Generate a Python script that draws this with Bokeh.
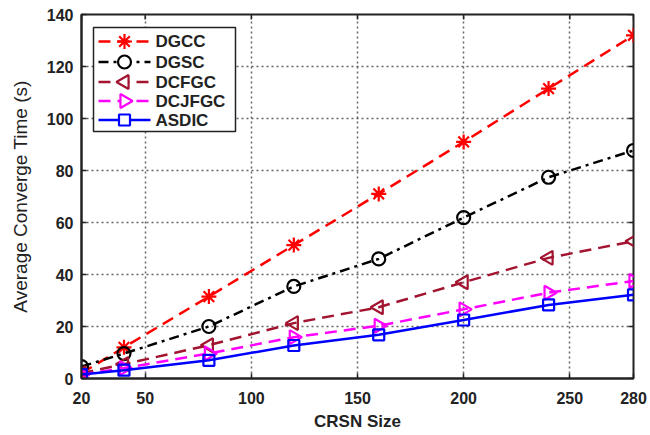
import numpy as np
from bokeh.plotting import figure
from bokeh.models import Range1d, FixedTicker
from bokeh.core.properties import value
from bokeh.embed import file_html
from bokeh.resources import INLINE

# Data
crsn_size = [20, 40, 80, 120, 160, 200, 240, 280]
dgcc = [2.0, 12.0, 31.5, 51.3, 71.0, 91.0, 111.5, 132.0]
dgsc = [4.6, 9.6, 20.0, 35.4, 46.0, 61.9, 77.4, 87.7]
dcfgc = [2.0, 5.5, 12.8, 21.3, 27.4, 37.0, 46.4, 52.8]
dcjfgc = [1.5, 4.0, 9.6, 15.9, 20.3, 26.6, 33.0, 37.5]
asdic = [1.5, 3.2, 7.0, 12.7, 16.8, 22.5, 28.3, 32.2]
series_names = ["DGCC", "DGSC", "DCFGC", "DCJFGC", "ASDIC"]

x_ticks = [20, 50, 100, 150, 200, 250, 280]
y_ticks = [0, 20, 40, 60, 80, 100, 120, 140]

# layout (screen pixels)
W, H = 650, 435
ML, MR, MT, MB = 81, 17, 14, 57
FW, FH = W - ML - MR, H - MT - MB
XMIN, XMAX, YMIN, YMAX = 20, 280, 0, 140

p = figure(width=W, height=H, output_backend="svg", toolbar_location=None,
           x_range=Range1d(XMIN, XMAX), y_range=Range1d(YMIN, YMAX),
           min_border_left=ML, min_border_right=MR, min_border_top=MT, min_border_bottom=MB)
p.background_fill_color = "white"
p.border_fill_color = "white"
p.outline_line_color = "#222222"
p.outline_line_width = 2

FONT = "Liberation Sans"
INK = "#222222"

for ax in (p.xaxis[0], p.yaxis[0]):
    ax.axis_line_width = 2
    ax.axis_line_color = INK
    ax.major_tick_in = 5
    ax.major_tick_out = 0
    ax.major_tick_line_width = 1.5
    ax.major_tick_line_color = INK
    ax.minor_tick_line_color = None
    ax.major_label_text_font = FONT
    ax.major_label_text_font_style = "bold"
    ax.major_label_text_font_size = "16px"
    ax.major_label_text_color = INK
    ax.axis_label_text_font = FONT
    ax.axis_label_text_color = INK

p.xaxis.ticker = FixedTicker(ticks=x_ticks)
p.yaxis.ticker = FixedTicker(ticks=y_ticks)
p.xaxis.major_label_standoff = 13
p.yaxis.major_label_standoff = 8
p.xaxis.axis_label = "CRSN Size"
p.xaxis.axis_label_text_font_style = "bold"
p.xaxis.axis_label_text_font_size = "17px"
p.xaxis.axis_label_standoff = 5
p.yaxis.axis_label = "Average Converge Time (s)"
p.yaxis.axis_label_text_font_style = "normal"
p.yaxis.axis_label_text_font_size = "19px"
p.yaxis.axis_label_standoff = 13

p.xgrid.ticker = FixedTicker(ticks=x_ticks)
p.ygrid.ticker = FixedTicker(ticks=y_ticks)
for g in (p.xgrid[0], p.ygrid[0]):
    g.grid_line_color = "#555555"
    g.grid_line_dash = "2 3"
    g.grid_line_width = 1.5
    g.grid_line_alpha = 0.9

# inward box ticks on the top and right edges (5 px long)
tick_dx = 5 * (XMAX - XMIN) / FW
tick_dy = 5 * (YMAX - YMIN) / FH
p.segment(x0=x_ticks, x1=x_ticks, y0=[YMAX] * len(x_ticks), y1=[YMAX - tick_dy] * len(x_ticks),
          line_color=INK, line_width=1.5)
p.segment(x0=[XMAX] * len(y_ticks), x1=[XMAX - tick_dx] * len(y_ticks), y0=y_ticks, y1=y_ticks,
          line_color=INK, line_width=1.5)

styles = [
    ("#FF0000", "12 7", "asterisk", 0.0, 15),
    ("#000000", "10 5 3 5", "circle", 0.0, 13),
    ("#A2142F", "12 7", "triangle", np.pi / 2, 14),
    ("#FF00FF", "12 7", "triangle", -np.pi / 2, 14),
    ("#0000FF", "solid", "square", 0.0, 11),
]
values = [dgcc, dgsc, dcfgc, dcjfgc, asdic]

for ys, (color, dash, marker, ang, size) in zip(values, styles):
    p.line(crsn_size, ys, line_color=color, line_width=2.5, line_dash=dash)
    p.scatter(crsn_size, ys, marker=marker, size=size, angle=ang,
              line_color=color, line_width=2.2,
              fill_color=color if marker == "asterisk" else None)

# ---- legend (drawn in the frame, positioned in screen pixels) ----
def sx2x(sx):
    return XMIN + (sx - ML) * (XMAX - XMIN) / FW

def sy2y(sy):
    return YMAX - (sy - MT) * (YMAX - YMIN) / FH

LB_L, LB_R, LB_T, LB_B = 93, 235, 27, 131
row_y = [41, 61.5, 81.5, 100.5, 119.5]
p.quad(left=sx2x(LB_L), right=sx2x(LB_R), top=sy2y(LB_T), bottom=sy2y(LB_B),
       fill_color="white", line_color=INK, line_width=1.5)
for name, ry, (color, dash, marker, ang, size) in zip(series_names, row_y, styles):
    yy = sy2y(ry)
    p.line([sx2x(98), sx2x(150)], [yy, yy], line_color=color, line_width=2.5, line_dash=dash)
    p.scatter([sx2x(124)], [yy], marker=marker, size=size, angle=ang,
              line_color=color, line_width=2.2,
              fill_color=color if marker == "asterisk" else "white")
    p.text([sx2x(155)], [yy], text=[name], text_font=value(FONT), text_font_style="bold",
           text_font_size="17px", text_baseline="middle", text_align="left", text_color=INK)

open("out.html", "w").write(file_html(p, INLINE))
